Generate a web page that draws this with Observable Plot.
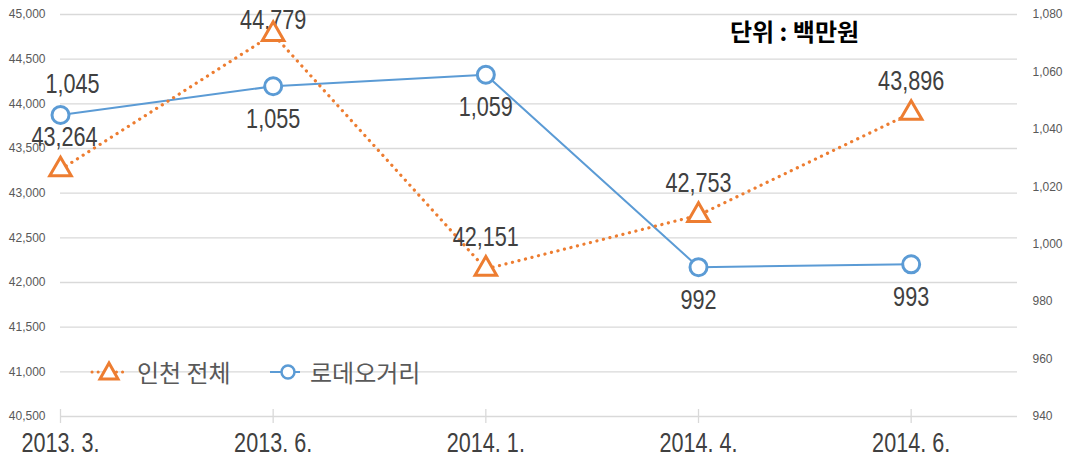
<!DOCTYPE html>
<html>
<head>
<meta charset="utf-8">
<script src="https://cdn.jsdelivr.net/npm/d3@7"></script>
<script src="https://cdn.jsdelivr.net/npm/@observablehq/plot@0.6"></script>
<style>
  html, body { margin: 0; padding: 0; background: #fff; }
  #wrap { position: relative; width: 1070px; height: 459px; }
  .legend .item { position: absolute; top: 358px; display: flex; align-items: center;
    font-family: "Noto Sans CJK KR", sans-serif; font-size: 24px; line-height: 28px; color: #595959; }
  .legend svg { display: block; }
  .unit { position: absolute; left: 730px; top: 19px; font-family: "Noto Sans CJK KR", sans-serif;
    font-weight: bold; font-size: 24px; line-height: 24px; color: #000; }
</style>
</head>
<body>
<div id="wrap"></div>
<script>
const categories = ["2013. 3.", "2013. 6.", "2014. 1.", "2014. 4.", "2014. 6."];
const incheonTotal = [43264, 44779, 42151, 42753, 43896];   // 인천 전체 (left axis)
const rodeo = [1045, 1055, 1059, 992, 993];                 // 로데오거리 (right axis)
const leftTicks = [40500, 41000, 41500, 42000, 42500, 43000, 43500, 44000, 44500, 45000];
const rightTicks = [940, 960, 980, 1000, 1020, 1040, 1060, 1080];
const seriesNames = ["인천 전체", "로데오거리"];
const unitLabel = "단위 : 백만원";

const ORANGE = "#ED7D31", BLUE = "#5B9BD5";
const sans = "'Liberation Sans', Arial, sans-serif";

// map right-axis values onto the left-axis domain
const toLeft = v => 40500 + (v - 940) * (45000 - 40500) / (1080 - 940);
const toRight = y => 940 + (y - 40500) * (1080 - 940) / (45000 - 40500);

const data = categories.map((c, i) => ({ i, c, total: incheonTotal[i], rodeo: rodeo[i], rodeoL: toLeft(rodeo[i]) }));
const fmt = d3.format(",");
const upp = 4500 / 402; // data units per pixel (approx)
const first = data.filter(d => d.i === 0), rest = data.filter(d => d.i !== 0);

const labelStyle = { fontSize: 27, fill: "#404040" };

const plot = Plot.plot({
  width: 1070,
  height: 459,
  marginLeft: 60,
  marginRight: 53,
  marginTop: 14,
  marginBottom: 43,
  x: { type: "linear", domain: [0, 4.5] },
  y: { domain: [40500, 45000] },
  style: { fontFamily: sans, background: "#fff" },
  marks: [
    Plot.ruleY(leftTicks, { stroke: "#d9d9d9", strokeWidth: 1.3 }),
    Plot.ruleX(data, { x: "i", y1: 40500 - 7 * upp, y2: 40500 + 7 * upp, stroke: "#d9d9d9", strokeWidth: 1.3 }),
    Plot.axisY({ anchor: "left", ticks: leftTicks, tickSize: 0, tickPadding: 15, fontSize: 12, fill: "#595959", tickFormat: fmt, label: null }),
    Plot.axisY({ anchor: "right", ticks: rightTicks.map(toLeft), tickSize: 0, tickPadding: 15, fontSize: 12, fill: "#595959", tickFormat: d => fmt(Math.round(toRight(d))), label: null }),
    Plot.axisX({ ticks: data.map(d => d.i), tickSize: 0, tickPadding: 16, fontSize: 27, fill: "#404040", tickFormat: i => categories[i], label: null }),
    Plot.line(data, { x: "i", y: "rodeoL", stroke: BLUE, strokeWidth: 2 }),
    Plot.line(data, { x: "i", y: "total", stroke: ORANGE, strokeWidth: 3.2, strokeDasharray: "0.1 6.6", strokeLinecap: "round" }),
    // 인천 전체 labels (above points; first nudged right like the reference)
    Plot.text(first, { x: "i", y: d => d.total + 32 * upp, text: d => fmt(d.total), dx: 4, ...labelStyle }),
    Plot.text(rest, { x: "i", y: d => Math.min(d.total + 32 * upp, 45000 - 6 * upp), text: d => fmt(d.total), ...labelStyle }),
    // 로데오거리 labels (first above, rest below)
    Plot.text(first, { x: "i", y: d => d.rodeoL + 31 * upp, text: d => fmt(d.rodeo), dx: 12, ...labelStyle }),
    Plot.text(rest, { x: "i", y: d => d.rodeoL - 33 * upp, text: d => fmt(d.rodeo), ...labelStyle }),
    Plot.dot(data, { x: "i", y: "rodeoL", r: 8.5, stroke: BLUE, strokeWidth: 3, fill: "#fff" }),
    Plot.dot(data, { x: "i", y: "total", symbol: "triangle", r: 8, stroke: ORANGE, strokeWidth: 3, fill: "#fff" })
  ]
});

const wrap = document.getElementById("wrap");
wrap.appendChild(plot);

// condense the large labels horizontally (reference uses a narrow face)
plot.querySelectorAll('g[aria-label="text"] text, g[aria-label="x-axis tick label"] text').forEach(t => {
  const len = t.getComputedTextLength();
  if (len > 0) {
    t.setAttribute("textLength", (len * 0.8).toFixed(1));
    t.setAttribute("lengthAdjust", "spacingAndGlyphs");
  }
});

const legend = document.createElement("div");
legend.className = "legend";
legend.innerHTML = `
  <div class="item" style="left:90px">
    <svg width="36" height="28" viewBox="0 0 36 28">
      <line x1="2" y1="14" x2="35" y2="14" stroke="${ORANGE}" stroke-width="3" stroke-dasharray="0.1 6" stroke-linecap="round"/>
      <path d="M19,5 L28,21 L10,21 Z" fill="#fff" stroke="${ORANGE}" stroke-width="3" stroke-linejoin="miter"/>
    </svg><span style="margin-left:11px">${seriesNames[0]}</span>
  </div>
  <div class="item" style="left:270px">
    <svg width="30" height="28" viewBox="0 0 30 28">
      <line x1="0" y1="14" x2="30" y2="14" stroke="${BLUE}" stroke-width="2"/>
      <circle cx="18" cy="14" r="6.5" fill="#fff" stroke="${BLUE}" stroke-width="2.5"/>
    </svg><span style="margin-left:10px">${seriesNames[1]}</span>
  </div>`;
wrap.appendChild(legend);

const unit = document.createElement("div");
unit.className = "unit";
unit.textContent = unitLabel;
wrap.appendChild(unit);
</script>
</body>
</html>
